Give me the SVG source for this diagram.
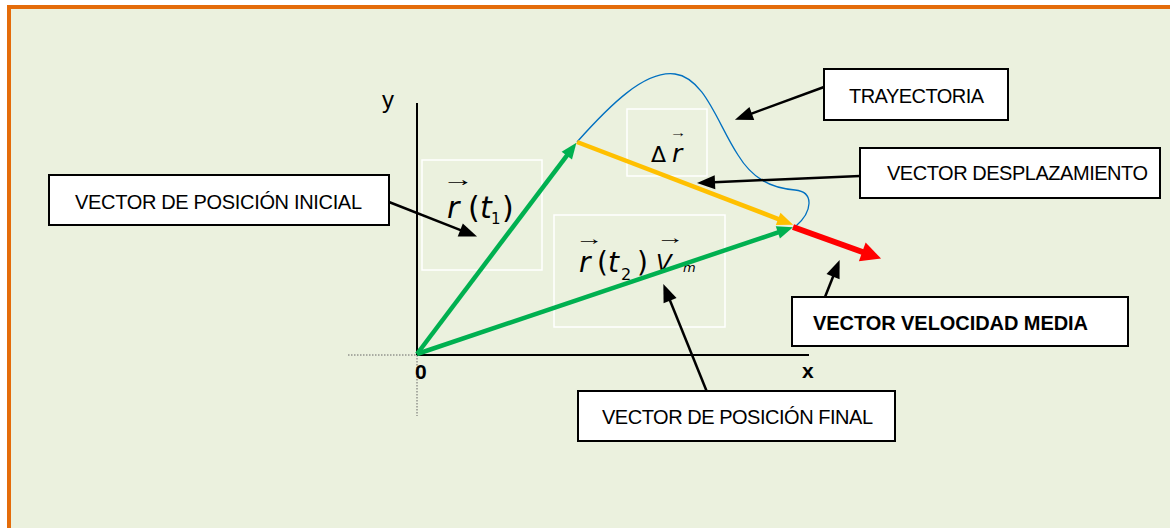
<svg xmlns="http://www.w3.org/2000/svg" width="1170" height="528" viewBox="0 0 1170 528">
<style>
.lbl{fill:#fff;stroke:#000;stroke-width:2}
.lt{font-family:"Liberation Sans",Arial,sans-serif;font-size:20px;fill:#000}
.wb{fill:none;stroke:#fff;stroke-width:1.5}
.m{font-family:"DejaVu Sans",sans-serif;fill:#000}
.ar{font-family:"Liberation Serif","DejaVu Serif",serif;fill:#000}
.it{font-style:italic}
.conn{stroke:#000;stroke-width:2.5;fill:none;marker-end:url(#hb)}
.ax{stroke:#000;stroke-width:2;fill:none}
.dot{stroke:#666;stroke-width:1;stroke-dasharray:1.5 1.5;fill:none}
</style>
<defs>
<marker id="hb" markerUnits="userSpaceOnUse" markerWidth="18" markerHeight="14" refX="1" refY="7" orient="auto" overflow="visible"><path d="M0,0 L18,7 L0,14 Z" fill="#000"/></marker>
<marker id="hg" markerUnits="userSpaceOnUse" markerWidth="16" markerHeight="13" refX="1" refY="6.5" orient="auto" overflow="visible"><path d="M0,0 L16,6.5 L0,13 Z" fill="#00B050"/></marker>
<marker id="ho" markerUnits="userSpaceOnUse" markerWidth="16" markerHeight="13" refX="1" refY="6.5" orient="auto" overflow="visible"><path d="M0,0 L16,6.5 L0,13 Z" fill="#FFC000"/></marker>
<marker id="hr" markerUnits="userSpaceOnUse" markerWidth="20" markerHeight="20" refX="1" refY="10" orient="auto" overflow="visible"><path d="M0,0 L20,10 L0,20 Z" fill="#FF0000"/></marker>
</defs>
<rect x="0" y="0" width="1170" height="528" fill="#fff"/>
<rect x="7" y="5" width="1163" height="523" fill="#EBF1DE"/>
<rect x="7" y="5" width="1163" height="4" fill="#E46C0A"/>
<rect x="7" y="5" width="4" height="523" fill="#E46C0A"/>

<g id="axes">
<line class="dot" x1="348" y1="355" x2="417" y2="355"/>
<line class="dot" x1="417" y1="355" x2="417" y2="416"/>
<line class="ax" x1="417" y1="103" x2="417" y2="355"/>
<line class="ax" x1="417" y1="355" x2="809" y2="355"/>
<text x="382" y="108" style="font-family:'Liberation Sans',Arial,sans-serif;font-size:24px">y</text>
<text x="415" y="379" style="font-family:'Liberation Sans',Arial,sans-serif;font-size:21px;font-weight:bold">0</text>
<text x="802" y="378" style="font-family:'Liberation Sans',Arial,sans-serif;font-size:21px;font-weight:bold">x</text>
</g>

<g id="label-r1">
<rect class="wb" x="422" y="160" width="120" height="110"/>
<text class="ar" x="0" y="0" font-size="20" transform="translate(442,186) scale(1.6,1)">→</text>
<text class="m" y="218" font-size="30"><tspan class="it" x="447">r</tspan><tspan x="468">(</tspan><tspan class="it" x="480">t</tspan><tspan x="491" y="224" font-size="15">1</tspan><tspan x="502" y="218">)</tspan></text>
</g>

<g id="label-dr">
<rect class="wb" x="627" y="109" width="80" height="67"/>
<text class="ar" x="0" y="0" font-size="13" transform="translate(670,137) scale(1.3,1)">→</text>
<text class="m" x="651" y="162" font-size="22">Δ</text>
<text class="m it" x="672" y="162" font-size="25">r</text>
</g>

<g id="label-r2">
<rect class="wb" x="554" y="215" width="171" height="112"/>
<text class="ar" x="0" y="0" font-size="19" transform="translate(575,245) scale(1.5,1)">→</text>
<text class="ar" x="0" y="0" font-size="19" transform="translate(656,244) scale(1.5,1)">→</text>
<text class="m" y="272" font-size="28"><tspan class="it" x="579">r</tspan><tspan x="597">(</tspan><tspan class="it" x="608">t</tspan><tspan x="621" y="280" font-size="16">2</tspan><tspan x="637" y="272">)</tspan></text>
<text class="m it" x="656" y="271" font-size="23">V</text>
<text class="m it" x="683" y="272" font-size="13">m</text>
</g>

<g id="trayectoria-curve">
<path d="M577,142 C610,105 645,70 675,74 C705,78 718,125 738,155 C752,178 770,188 795,190 C815,192 812,212 796,226" fill="none" stroke="#0070C0" stroke-width="1.3"/>
</g>

<g id="vectors">
<line x1="417" y1="354" x2="567.4" y2="154.8" stroke="#00B050" stroke-width="4.5" marker-end="url(#hg)"/>
<line x1="417" y1="354" x2="778.8" y2="232.1" stroke="#00B050" stroke-width="4.5" marker-end="url(#hg)"/>
<line x1="577" y1="142" x2="779.1" y2="219.3" stroke="#FFC000" stroke-width="4.5" marker-end="url(#ho)"/>
<line x1="793" y1="227" x2="863.2" y2="252.2" stroke="#FF0000" stroke-width="6" marker-end="url(#hr)"/>
</g>

<g id="connectors">
<line class="conn" x1="389" y1="202" x2="461.2" y2="230.4"/>
<line class="conn" x1="824" y1="87" x2="750.9" y2="113.8"/>
<line class="conn" x1="860" y1="176" x2="714" y2="182.2"/>
<line class="conn" x1="825" y1="297" x2="833.4" y2="275.7"/>
<line class="conn" x1="707" y1="392" x2="669.7" y2="299.7"/>
</g>

<g id="node-inicial">
<rect class="lbl" x="49" y="175" width="340" height="50"/>
<text class="lt" x="75" y="209" textLength="287">VECTOR DE POSICIÓN INICIAL</text>
</g>
<g id="node-trayectoria">
<rect class="lbl" x="824" y="69" width="184" height="51"/>
<text class="lt" x="849" y="103" textLength="135">TRAYECTORIA</text>
</g>
<g id="node-desplazamiento">
<rect class="lbl" x="860" y="148" width="300" height="50"/>
<text class="lt" x="887" y="180" textLength="261">VECTOR DESPLAZAMIENTO</text>
</g>
<g id="node-velocidad">
<rect class="lbl" x="792" y="297" width="336" height="49"/>
<text class="lt" x="813" y="330" textLength="275" font-weight="bold">VECTOR VELOCIDAD MEDIA</text>
</g>
<g id="node-final">
<rect class="lbl" x="578" y="391" width="317" height="50"/>
<text class="lt" x="602" y="424" textLength="271">VECTOR DE POSICIÓN FINAL</text>
</g>
</svg>
